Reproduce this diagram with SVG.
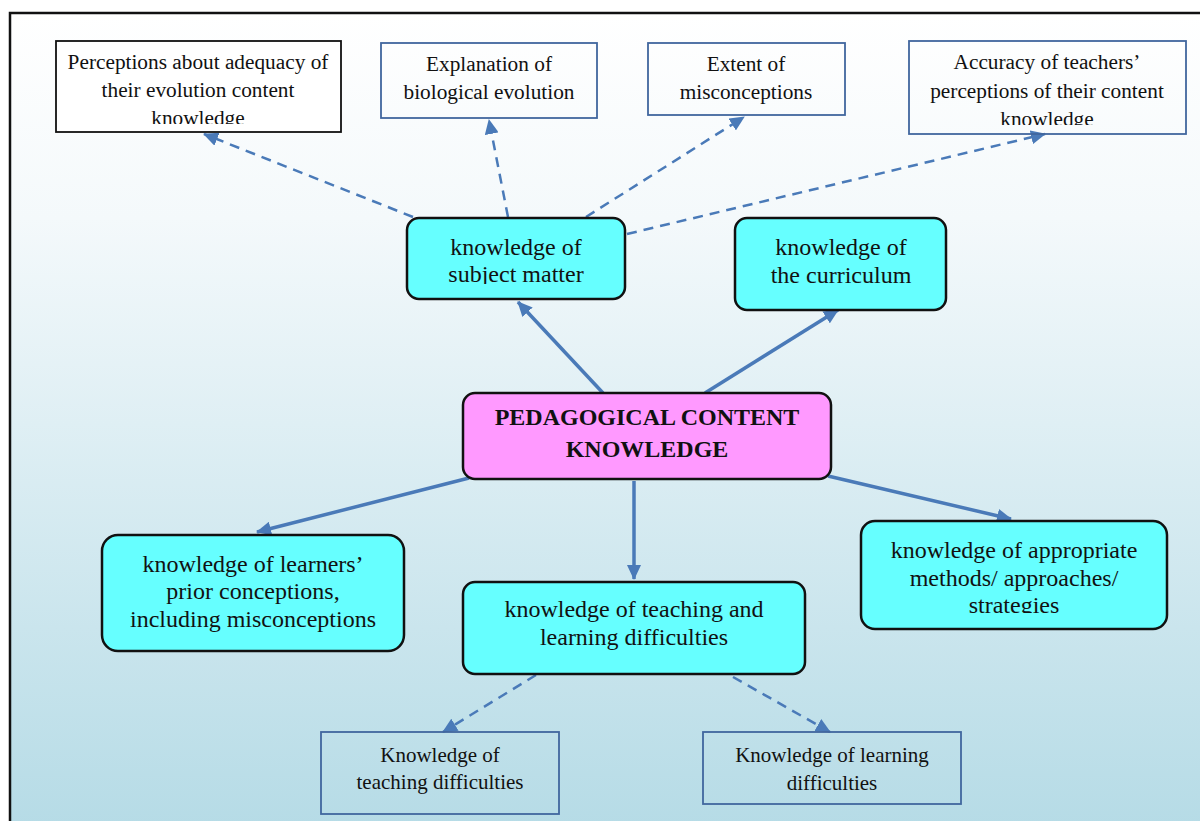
<svg xmlns="http://www.w3.org/2000/svg" width="1200" height="821" viewBox="0 0 1200 821">
<defs>
<linearGradient id="bg" x1="0" y1="0" x2="0" y2="1">
<stop offset="0" stop-color="#ffffff"/>
<stop offset="0.25" stop-color="#f4f9fb"/>
<stop offset="1" stop-color="#b5dbe6"/>
</linearGradient>
<marker id="ah" markerUnits="userSpaceOnUse" markerWidth="16" markerHeight="14" refX="14" refY="7" orient="auto">
<path d="M0,0 L15,7 L0,14 Z" fill="#4a7ab8"/>
</marker>
<clipPath id="c1"><rect x="56" y="41" width="285" height="83"/></clipPath>
<clipPath id="c4"><rect x="909" y="41" width="277" height="84"/></clipPath>
<clipPath id="c10"><rect x="861" y="521" width="306" height="92"/></clipPath>
<clipPath id="c5"><rect x="407" y="218" width="218" height="66"/></clipPath>
</defs>
<style>
.t{font-family:"Liberation Serif","Times New Roman",serif;font-size:21.3px;fill:#111;text-anchor:middle}
.ts{font-family:"Liberation Serif","Times New Roman",serif;font-size:21px;fill:#111;text-anchor:middle}
.tb{font-family:"Liberation Serif","Times New Roman",serif;font-size:24px;font-weight:bold;fill:#111;text-anchor:middle}
.tr{font-family:"Liberation Serif","Times New Roman",serif;font-size:24px;fill:#111;text-anchor:middle}
.bx{fill:#ffffff;stroke:#111;stroke-width:1.8}
.bb{fill:none;stroke:#41669e;stroke-width:1.8}
.cy{fill:#66ffff;stroke:#111;stroke-width:2.5}
.pk{fill:#ff99ff;stroke:#111;stroke-width:2.5}
.sol{stroke:#4a7ab8;stroke-width:3.5;fill:none;marker-end:url(#ah)}
.dsh{stroke:#4a7ab8;stroke-width:2.5;fill:none;stroke-dasharray:10 7;marker-end:url(#ah)}
</style>
<rect x="0" y="0" width="1200" height="821" fill="#ffffff"/>
<rect x="10" y="13" width="1200" height="820" fill="url(#bg)" stroke="#111" stroke-width="2.5"/>

<g id="connectors">
<line class="dsh" x1="413" y1="217" x2="204" y2="134"/>
<line class="dsh" x1="508" y1="217" x2="489" y2="120"/>
<line class="dsh" x1="586" y1="217" x2="744" y2="117"/>
<line class="dsh" x1="627" y1="234" x2="1045" y2="134"/>
<line class="dsh" x1="536" y1="675" x2="443" y2="732"/>
<line class="dsh" x1="733" y1="677" x2="830" y2="732"/>
<line class="sol" x1="603" y1="393" x2="518" y2="302"/>
<line class="sol" x1="705" y1="393" x2="838" y2="310"/>
<line class="sol" x1="469" y1="478" x2="257" y2="532"/>
<line class="sol" x1="634" y1="481" x2="634" y2="579"/>
<line class="sol" x1="828" y1="476" x2="1011" y2="519"/>
</g>

<g id="n1">
<rect class="bx" x="56" y="41" width="285" height="91"/>
<g clip-path="url(#c1)">
<text class="t" x="198" y="69">Perceptions about adequacy of</text>
<text class="t" x="198" y="97">their evolution content</text>
<text class="t" x="198" y="125">knowledge</text>
</g>
</g>
<g id="n2">
<rect class="bb" x="381" y="43" width="216" height="75" fill="#ffffff"/>
<text class="t" x="489" y="71">Explanation of</text>
<text class="t" x="489" y="99">biological evolution</text>
</g>
<g id="n3">
<rect class="bb" x="648" y="43" width="197" height="72" fill="#ffffff"/>
<text class="t" x="746" y="71">Extent of</text>
<text class="t" x="746" y="99">misconceptions</text>
</g>
<g id="n4">
<rect class="bb" x="909" y="41" width="277" height="93" fill="#ffffff"/>
<g clip-path="url(#c4)">
<text class="t" x="1047" y="69">Accuracy of teachers’</text>
<text class="t" x="1047" y="98">perceptions of their content</text>
<text class="t" x="1047" y="126">knowledge</text>
</g>
</g>
<g id="n5">
<rect class="cy" x="407" y="218" width="218" height="81" rx="12"/>
<g clip-path="url(#c5)">
<text class="tr" x="516" y="255">knowledge of</text>
<text class="tr" x="516" y="282">subject matter</text>
</g>
</g>
<g id="n6">
<rect class="cy" x="735" y="218" width="211" height="92" rx="12"/>
<text class="tr" x="841" y="255">knowledge of</text>
<text class="tr" x="841" y="283">the curriculum</text>
</g>
<g id="n7">
<rect class="pk" x="463" y="393" width="368" height="86" rx="12"/>
<text class="tb" x="647" y="425">PEDAGOGICAL CONTENT</text>
<text class="tb" x="647" y="457">KNOWLEDGE</text>
</g>
<g id="n8">
<rect class="cy" x="102" y="535" width="302" height="116" rx="16"/>
<text class="tr" x="253" y="572">knowledge of learners’</text>
<text class="tr" x="253" y="599">prior conceptions,</text>
<text class="tr" x="253" y="627">including misconceptions</text>
</g>
<g id="n9">
<rect class="cy" x="463" y="582" width="342" height="92" rx="12"/>
<text class="tr" x="634" y="617">knowledge of teaching and</text>
<text class="tr" x="634" y="645">learning difficulties</text>
</g>
<g id="n10">
<rect class="cy" x="861" y="521" width="306" height="108" rx="14"/>
<g clip-path="url(#c10)">
<text class="tr" x="1014" y="558">knowledge of appropriate</text>
<text class="tr" x="1014" y="586">methods/ approaches/</text>
<text class="tr" x="1014" y="613">strategies</text>
</g>
</g>
<g id="n11">
<rect class="bb" x="321" y="732" width="238" height="82"/>
<text class="ts" x="440" y="762">Knowledge of</text>
<text class="ts" x="440" y="789">teaching difficulties</text>
</g>
<g id="n12">
<rect class="bb" x="703" y="732" width="258" height="72"/>
<text class="ts" x="832" y="762">Knowledge of learning</text>
<text class="ts" x="832" y="790">difficulties</text>
</g>
</svg>
